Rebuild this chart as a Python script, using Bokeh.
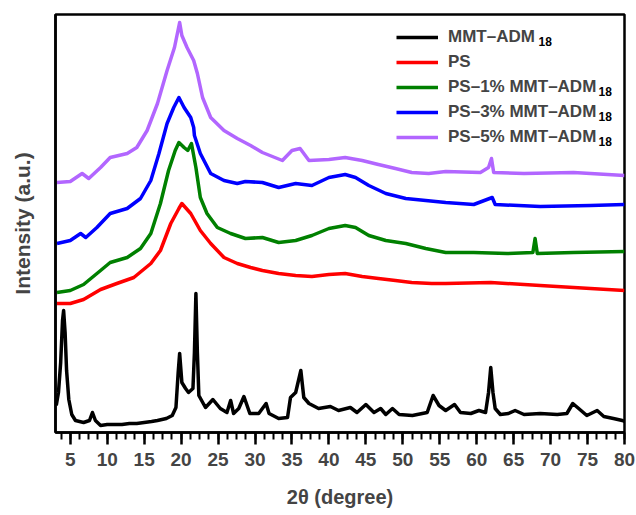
from bokeh.plotting import figure
from bokeh.models import Range1d, SingleIntervalTicker, FixedTicker, Legend, LegendItem, Label
from bokeh.embed import file_html
from bokeh.resources import INLINE

# ---- data (2θ in degrees, intensity in a.u., curves vertically offset) ----
mmt_x = [3.1, 3.4, 3.7, 3.95, 4.1, 4.3, 4.5, 4.8, 5.2, 5.7, 6.8, 7.6, 8.0, 8.4, 9.1, 10, 11, 12, 13, 14,
         15, 16, 16.8, 18, 18.8, 19.3, 19.6, 19.8, 20.1, 20.6, 21.0, 21.6, 21.8, 22.0, 22.2, 22.4, 23.3,
         24.3, 25.3, 26.2, 26.7, 27.1, 27.8, 28.5, 29.3, 30.5, 31.5, 31.9, 33.2, 34.4, 34.8, 35.5, 36.2,
         36.6, 37.3, 38.6, 40.2, 41.3, 42.9, 43.8, 45.0, 46.1, 47.0, 47.7, 48.6, 49.5, 51.3, 53.3, 54.1,
         54.9, 55.8, 57.0, 57.8, 59.2, 60.3, 61.2, 61.6, 61.9, 62.2, 62.5, 63.2, 64.3, 65.2, 66.4, 68.6,
         70.9, 72.2, 73.0, 73.8, 74.9, 76.3, 77.2, 78.5, 79.7, 80.0]
mmt_y = [27, 40, 70, 112, 122, 100, 62, 33, 18, 12, 10, 12, 20, 12, 7, 8, 8, 8, 9, 9,
         10, 11, 12, 14, 17, 25, 60, 79, 50, 44, 40, 44, 80, 139, 80, 37, 25,
         33, 24, 20, 32, 19, 24, 36, 19, 19, 29, 19, 14, 15, 35, 40, 62,
         35, 29, 24, 26, 22, 25, 20, 28, 20, 24, 18, 24, 18, 17, 20, 37,
         27, 22, 28, 20, 19, 22, 20, 40, 65, 40, 24, 18, 19, 22, 18, 19,
         18, 19, 29, 24, 17, 22, 16, 14, 12, 11]

ps_x = [3.2, 5.0, 6.8, 9.1, 11.3, 13.6, 15.9, 17.2, 18.6, 19.7, 20.1, 21.3, 22.6, 24.0, 25.8, 27.6,
        29.4, 31.0, 33.2, 35.5, 37.7, 40.0, 42.2, 44.5, 46.7, 49.0, 51.2, 53.9, 55.8, 61.9, 68.6, 75.4, 80.0]
ps_y = [129, 129, 133, 143, 149, 155, 169, 182, 209, 224, 229, 219, 202, 189, 175, 169,
        165, 162, 159, 157, 156, 158, 159, 156, 154, 152, 150, 149, 149, 150, 147, 144, 142]

ps1_x = [3.2, 5.0, 6.8, 9.1, 10.4, 12.7, 14.5, 15.9, 17.2, 18.3, 19.2, 19.7, 20.4, 20.9, 21.4, 22.0,
         22.6, 23.5, 24.9, 26.7, 28.7, 31.0, 33.2, 35.5, 37.7, 40.0, 42.2, 43.6, 45.4, 47.7, 50.4,
         53.1, 55.8, 59.6, 64.1, 67.6, 67.9, 68.2, 73.1, 80.0]
ps1_y = [140, 142, 148, 162, 170, 175, 184, 199, 229, 262, 282, 290, 285, 282, 289, 265,
         235, 219, 205, 199, 194, 195, 190, 192, 197, 204, 207, 205, 197, 192, 189,
         184, 180, 180, 179, 180, 194, 179, 180, 181]

ps3_x = [3.2, 5.0, 6.4, 7.1, 8.6, 10.4, 12.7, 14.5, 15.9, 17.0, 18.1, 19.0, 19.7, 20.4, 21.3, 21.7,
         21.8, 22.6, 24.0, 25.8, 27.6, 28.7, 31.0, 33.2, 35.5, 37.7, 40.0, 42.2, 43.6, 45.4, 47.7,
         50.4, 53.1, 55.8, 59.6, 62.1, 62.5, 68.6, 75.4, 80.0]
ps3_y = [189, 192, 199, 195, 205, 219, 224, 234, 252, 279, 309, 325, 335, 325, 315, 305,
         297, 279, 259, 252, 249, 251, 250, 245, 249, 247, 255, 258, 255, 247, 239,
         234, 232, 230, 228, 235, 228, 226, 227, 228]

ps5_x = [3.2, 5.0, 6.6, 7.5, 9.1, 10.4, 12.7, 14.0, 15.4, 16.8, 18.1, 19.1, 19.8, 20.1, 20.8, 21.7,
         22.2, 22.9, 24.0, 25.8, 27.6, 29.4, 31.0, 33.7, 35.0, 36.1, 37.3, 40.0, 42.2, 44.5, 46.7,
         49.0, 51.2, 53.5, 55.8, 60.5, 61.6, 62.0, 62.3, 66.4, 73.1, 80.0]
ps5_y = [250, 251, 259, 254, 265, 275, 279, 285, 302, 329, 362, 385, 410, 397, 385, 372,
         359, 335, 315, 302, 294, 287, 280, 272, 282, 284, 272, 273, 275, 272, 268,
         264, 260, 259, 261, 260, 265, 274, 260, 259, 260, 257]

labels = ["MMT\u2013ADM", "PS", "PS\u20131% MMT\u2013ADM",
          "PS\u20133% MMT\u2013ADM", "PS\u20135% MMT\u2013ADM"]
subscripts = ["18", "", "18", "18", "18"]
colors = ["black", "#ff0000", "#008000", "#0000ff", "#b266ff"]
series = [(mmt_x, mmt_y), (ps_x, ps_y), (ps1_x, ps1_y), (ps3_x, ps3_y), (ps5_x, ps5_y)]

FONT = "Liberation Sans"

p = figure(width=636, height=515, output_backend="svg", toolbar_location=None,
           x_range=Range1d(3, 80), y_range=Range1d(0, 418),
           min_border_left=55, min_border_right=12, min_border_top=14, min_border_bottom=83)
p.background_fill_color = "white"
p.border_fill_color = "white"
p.xgrid.visible = False
p.ygrid.visible = False
p.outline_line_color = "black"
p.outline_line_width = 2.5

items = []
for (xs, ys), c, lab in zip(series, colors, labels):
    r = p.line(xs, ys, line_color=c, line_width=3.5, line_join="round")
    items.append(LegendItem(label=lab, renderers=[r]))

xa = p.xaxis[0]
xa.ticker = SingleIntervalTicker(interval=5, num_minor_ticks=4)
xa.axis_label = "2\u03b8 (degree)"
xa.axis_label_text_font = FONT
xa.axis_label_text_font_style = "bold"
xa.axis_label_text_font_size = "20px"
xa.axis_label_standoff = 17
xa.major_label_text_font = FONT
xa.major_label_text_font_style = "bold"
xa.major_label_text_font_size = "19px"
xa.major_label_standoff = 8
xa.axis_line_width = 2.5
xa.major_tick_line_width = 2.5
xa.minor_tick_line_width = 2
xa.major_tick_out = 12
xa.major_tick_in = 0
xa.minor_tick_out = 7
xa.minor_tick_in = 0

ya = p.yaxis[0]
ya.ticker = FixedTicker(ticks=[])
ya.axis_label = "Intensity (a.u.)"
ya.axis_label_text_font = FONT
ya.axis_label_text_font_style = "bold"
ya.axis_label_text_font_size = "21px"
ya.axis_label_standoff = 22
ya.major_tick_line_color = None
ya.minor_tick_line_color = None
ya.axis_line_width = 2.5

legend = Legend(items=items, location=(341, 285))
legend.border_line_color = None
legend.background_fill_alpha = 0
legend.label_text_font = FONT
legend.label_text_font_style = "bold"
legend.label_text_font_size = "17px"
legend.glyph_width = 42
legend.glyph_height = 20
legend.label_height = 20
legend.label_standoff = 10
legend.spacing = 5
legend.padding = 4
legend.margin = 0
p.add_layout(legend)

# subscripts "18" after the legend labels (screen units, relative to the frame)
sub_x = [483, 0, 543, 543, 543]
for i, (s, sx) in enumerate(zip(subscripts, sub_x)):
    if not s:
        continue
    sy = 391 - 25 * i
    p.add_layout(Label(x=sx, y=sy, x_units="screen", y_units="screen", text=s,
                       text_font=FONT, text_font_style="bold", text_font_size="12px",
                       text_baseline="middle", text_align="left", text_color="black"))

open("out.html", "w").write(file_html(p, INLINE))
